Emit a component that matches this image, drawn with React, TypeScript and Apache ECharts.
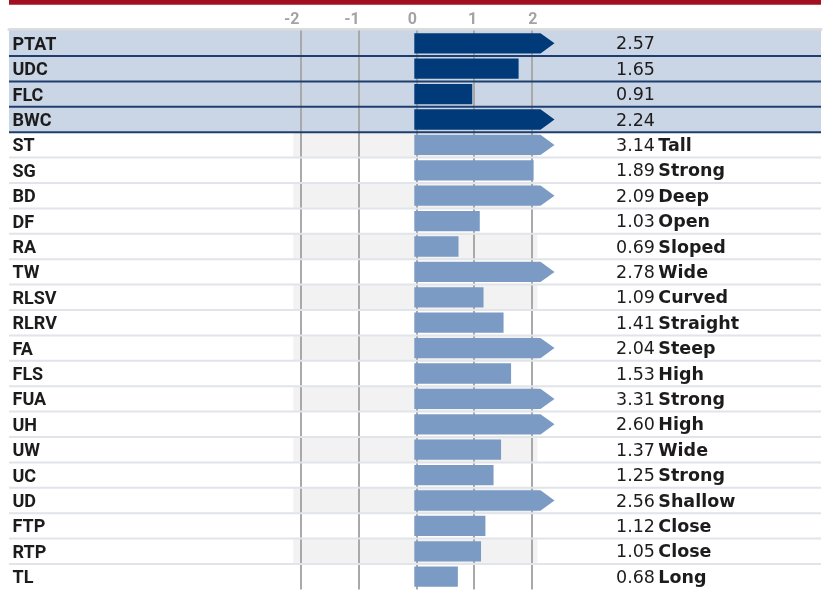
import React, { useEffect, useRef } from "react";
import * as echarts from "echarts";

const categories = ["PTAT", "UDC", "FLC", "BWC", "ST", "SG", "BD", "DF", "RA", "TW", "RLSV", "RLRV", "FA", "FLS", "FUA", "UH", "UW", "UC", "UD", "FTP", "RTP", "TL"];
const values = [2.57, 1.65, 0.91, 2.24, 3.14, 1.89, 2.09, 1.03, 0.69, 2.78, 1.09, 1.41, 2.04, 1.53, 3.31, 2.6, 1.37, 1.25, 2.56, 1.12, 1.05, 0.68];
const descriptors = ["", "", "", "", "Tall", "Strong", "Deep", "Open", "Sloped", "Wide", "Curved", "Straight", "Steep", "High", "Strong", "High", "Wide", "Strong", "Shallow", "Close", "Close", "Long"];
const summaryRows = ["PTAT", "UDC", "FLC", "BWC"];
const tickValues = [-2, -1, 0, 1, 2];

const axisMin = tickValues[0];
const axisMax = tickValues[tickValues.length - 1];

const TOP = 30.6;
const BOTTOM = 2.6;
const LABEL_FONT = "Roboto, 'Liberation Sans', sans-serif";
const VALUE_FONT = "'DejaVu Sans', sans-serif";

export default function App() {
  const ref = useRef<HTMLDivElement>(null);
  useEffect(() => {
    if (!ref.current) return;
    const chart = echarts.init(ref.current, undefined, { renderer: "svg" });
    const isSummary = (i: number) => summaryRows.includes(categories[i]);
    const rowData = categories.map((_, i) => [0, i]);
    const barData = values.map((v, i) => [v, i]);
    const hiddenY = (gridIndex: number) => ({
      type: "category" as const,
      gridIndex,
      data: categories,
      inverse: true,
      show: false,
    });
    const option: any = {
      animation: false,
      graphic: [
        { type: "rect", shape: { x: 9, y: 0, width: 812, height: 4.7 }, style: { fill: "#a30f22" } },
      ],
      grid: [
        { left: 9, right: 8, top: TOP, bottom: BOTTOM },
        { left: 290.1, right: 288.5, top: TOP, bottom: BOTTOM },
        { left: 300.7, right: 297, top: TOP, bottom: BOTTOM },
        { left: 291.8, right: 296.2, top: TOP, bottom: BOTTOM },
        { left: 616, right: 8, top: TOP, bottom: BOTTOM },
      ],
      xAxis: [
        {
          type: "value", gridIndex: 0, min: 0, max: 1, position: "top", offset: 1.5,
          axisLine: { show: true, lineStyle: { color: "#dcdcdc", width: 3 } },
          axisTick: { show: false }, axisLabel: { show: false }, splitLine: { show: false },
        },
        { type: "value", gridIndex: 1, min: axisMin, max: axisMax, show: false },
        {
          type: "value", gridIndex: 2, min: axisMin, max: axisMax, interval: 1, z: 4,
          axisLine: { show: false }, axisTick: { show: false }, axisLabel: { show: false },
          splitLine: { show: true, lineStyle: { color: "#a9a9a9", width: 2 } },
        },
        {
          type: "value", gridIndex: 3, min: axisMin, max: axisMax, interval: 1, position: "top",
          axisLine: { show: false }, axisTick: { show: false }, splitLine: { show: false },
          axisLabel: { margin: 4, color: "#a3a3a3", fontSize: 16, fontWeight: "bold", fontFamily: LABEL_FONT },
        },
        { type: "value", gridIndex: 4, min: 0, max: 1, show: false },
      ],
      yAxis: [
        {
          type: "category", gridIndex: 0, data: categories, inverse: true,
          axisLine: { show: false }, axisTick: { show: false },
          axisLabel: { inside: true, margin: 3.5, color: "#1c1c1c", fontSize: 18, fontWeight: "bold", fontFamily: LABEL_FONT },
          z: 7,
        },
        hiddenY(1),
        hiddenY(2),
        hiddenY(3),
        {
          type: "category", gridIndex: 4, data: categories, inverse: true,
          axisLine: { show: false }, axisTick: { show: false }, z: 7,
          axisLabel: {
            inside: true, margin: 0,
            formatter: (_: string, i: number) =>
              descriptors[i] ? `{v|${values[i].toFixed(2)}} {w|${descriptors[i]}}` : `{v|${values[i].toFixed(2)}}`,
            rich: {
              v: { fontFamily: VALUE_FONT, fontSize: 17.5, color: "#1c1c1c" },
              w: { fontFamily: VALUE_FONT, fontSize: 17.5, fontWeight: "bold", color: "#1c1c1c" },
            },
          },
        },
      ],
      series: [
        {
          type: "custom", xAxisIndex: 0, yAxisIndex: 0, z: 1, data: rowData, encode: { x: 0, y: 1 },
          renderItem: (params: any, api: any) => {
            const idx = api.value(1);
            if (!isSummary(idx)) return null;
            const c = api.coord([0, idx]);
            const h = api.size([0, 1])[1];
            const cs = params.coordSys;
            return { type: "rect", shape: { x: cs.x, y: c[1] - h / 2, width: cs.width, height: h }, style: { fill: "#cad6e6" } };
          },
        },
        {
          type: "custom", xAxisIndex: 1, yAxisIndex: 1, z: 2, data: rowData, encode: { x: 0, y: 1 },
          renderItem: (params: any, api: any) => {
            const idx = api.value(1);
            if (isSummary(idx) || (idx - summaryRows.length) % 2 !== 0) return null;
            const a = api.coord([axisMin + 0.05, idx]);
            const b = api.coord([axisMax - 0.05, idx]);
            const h = api.size([0, 1])[1];
            return { type: "rect", shape: { x: a[0], y: a[1] - h / 2, width: b[0] - a[0], height: h }, style: { fill: "#f2f2f2" } };
          },
        },
        {
          type: "custom", xAxisIndex: 0, yAxisIndex: 0, z: 5, data: rowData, encode: { x: 0, y: 1 },
          renderItem: (params: any, api: any) => {
            const idx = api.value(1);
            if (idx >= categories.length - 1) return null;
            const c = api.coord([0, idx]);
            const h = api.size([0, 1])[1];
            const cs = params.coordSys;
            const y = c[1] + h / 2;
            return {
              type: "line",
              shape: { x1: cs.x, y1: y, x2: cs.x + cs.width, y2: y },
              style: { stroke: isSummary(idx) ? "#1f3e6e" : "#e1e4e9", lineWidth: 2 },
            };
          },
        },
        {
          type: "custom", xAxisIndex: 1, yAxisIndex: 1, z: 6, data: barData, encode: { x: 0, y: 1 },
          renderItem: (params: any, api: any) => {
            const v = api.value(0);
            const idx = api.value(1);
            const clipped = Math.min(v, axisMax);
            const s = api.coord([0, idx]);
            const e = api.coord([clipped, idx]);
            const h = api.size([0, 1])[1] * 0.8;
            const x0 = s[0] - 1;
            const x1 = e[0];
            const yc = s[1];
            const pts: number[][] = [[x0, yc - h / 2], [x1, yc - h / 2]];
            if (v > axisMax) pts.push([x1 + 14, yc]);
            pts.push([x1, yc + h / 2], [x0, yc + h / 2]);
            return {
              type: "polygon",
              shape: { points: pts },
              style: { fill: isSummary(idx) ? "#003a79" : "#7b9bc4" },
            };
          },
        },
      ],
    };
    chart.setOption(option);
    return () => chart.dispose();
  }, []);
  return <div ref={ref} style={{ position: "fixed", left: 0, top: 0, width: 829, height: 592 }} />;
}
